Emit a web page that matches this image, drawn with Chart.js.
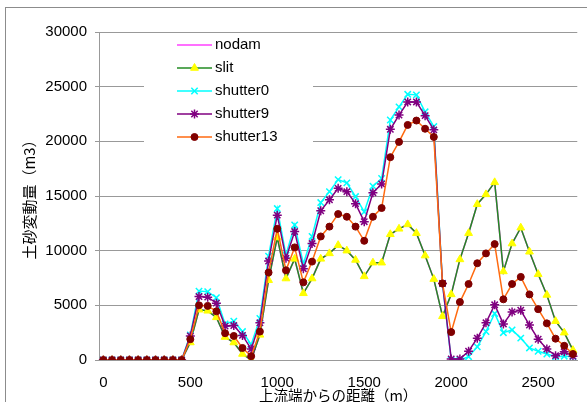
<!DOCTYPE html>
<html>
<head>
<meta charset="utf-8">
<script src="https://cdn.jsdelivr.net/npm/chart.js@4/dist/chart.umd.min.js"></script>
<style>
  body { margin: 0; background: #fff; }
  canvas { display: block; }
</style>
</head>
<body>
<canvas id="sedimentChart" width="587" height="402"></canvas>
<script>
// 距離 (m)
const distances = [];
for (let d = 0; d <= 2700; d += 50) distances.push(d);
const xTickLabels = [0, 500, 1000, 1500, 2000, 2500];

// 土砂変動量 (m3)
const slit = [0, 0, 0, 0, 0, 0, 0, 0, 0, 0,
  1600, 4600, 4500, 3900, 2100, 1600, 550, 0, 2300, 7300,
  11200, 7450, 9250, 6100, 7450, 9250, 9750, 10500, 10000, 9150,
  7650, 8900, 8900, 11500, 12000, 12400, 11600, 9550, 7400, 4000,
  6000, 9200, 11600, 14250, 15150, 16250, 8100, 10650, 12100, 9900,
  7850, 5950, 3550, 2500, 900];
const nodam = slit.slice();
const shutter0 = [0, 0, 0, 0, 0, 0, 0, 0, 0, 0,
  2300, 6300, 6250, 5700, 3300, 3550, 2600, 1400, 3800, 9500,
  13850, 9600, 12350, 8800, 11300, 14400, 15400, 16500, 16200, 14950,
  13550, 15900, 16600, 21950, 23150, 24300, 24250, 22700, 21350, 7000,
  0, 0, 300, 1200, 2600, 4250, 2500, 2750, 2000, 1100,
  800, 550, 300, 350, 300];
const shutter9 = [0, 0, 0, 0, 0, 0, 0, 0, 0, 0,
  2200, 5800, 5750, 5200, 3100, 3150, 2250, 1000, 3400, 9050,
  13250, 9300, 11750, 8350, 10650, 13650, 14650, 15700, 15400, 14300,
  12650, 15300, 16100, 21100, 22400, 23600, 23600, 22350, 21050, 7000,
  100, 100, 800, 2000, 3400, 5050, 3300, 4400, 4550, 3200,
  1900, 1000, 400, 750, 350];
const shutter13 = [0, 0, 0, 0, 0, 0, 0, 0, 0, 0,
  1900, 5000, 4950, 4450, 2450, 2200, 1100, 350, 2600, 8000,
  12000, 8200, 10300, 7100, 9000, 11300, 12200, 13350, 13100, 12200,
  10900, 13100, 13900, 18550, 19950, 21500, 21900, 21150, 20400, 7000,
  2550, 5300, 6950, 8850, 9750, 10600, 5550, 6950, 7600, 6000,
  4650, 3350, 1950, 1300, 550];

const labelFont = { family: "'Liberation Sans', Arial, sans-serif", size: 15 };
const jpFont = "'Noto Sans CJK JP', 'Liberation Sans', sans-serif";

// 外枠
const framePlugin = {
  id: 'frame',
  beforeDraw(chart) {
    const c = chart.ctx;
    c.save();
    c.fillStyle = '#fff';
    c.fillRect(0, 0, chart.width, chart.height);
    c.strokeStyle = '#8c8c8c';
    c.lineWidth = 1;
    c.strokeRect(5.5, 7.5, chart.width + 20, chart.height + 20);
    c.restore();
  }
};

// 凡例 (グラフ内に配置)
const legendPlugin = {
  id: 'insideLegend',
  afterDraw(chart) {
    const c = chart.ctx;
    c.save();
    c.fillStyle = '#fff';
    c.fillRect(144, 34, 169, 116);
    chart.data.datasets.forEach((ds, i) => {
      const y = 45 + 23 * i;
      c.strokeStyle = ds.borderColor;
      c.lineWidth = 1.5;
      c.beginPath();
      c.moveTo(177, y);
      c.lineTo(212, y);
      c.stroke();
      if (ds.pointRadius > 0) {
        c.fillStyle = ds.pointBackgroundColor;
        c.strokeStyle = ds.pointBorderColor;
        c.lineWidth = ds.pointBorderWidth || 1;
        Chart.helpers.drawPoint(c, {
          pointStyle: ds.pointStyle,
          radius: ds.pointRadius,
          rotation: 0,
          borderWidth: ds.pointBorderWidth || 1
        }, 194.5, y);
      }
      c.fillStyle = '#000';
      c.font = '15px ' + labelFont.family;
      c.textBaseline = 'middle';
      c.textAlign = 'left';
      c.fillText(ds.label, 215, y);
    });
    c.restore();
  }
};

const ctx = document.getElementById('sedimentChart').getContext('2d');
const chart = new Chart(ctx, {
  type: 'line',
  data: {
    labels: distances,
    datasets: [
      {
        label: 'nodam', data: nodam, order: 4,
        borderColor: '#ff40ff', borderWidth: 1.5,
        pointRadius: 0
      },
      {
        label: 'slit', data: slit, order: 3,
        borderColor: '#228b22', borderWidth: 1.5,
        pointStyle: 'triangle', pointRadius: 4.5,
        pointBackgroundColor: '#ffff00', pointBorderColor: '#ffff00', pointBorderWidth: 1
      },
      {
        label: 'shutter0', data: shutter0, order: 2,
        borderColor: '#00ffff', borderWidth: 1.5,
        pointStyle: 'crossRot', pointRadius: 4.5,
        pointBackgroundColor: '#00ffff', pointBorderColor: '#00ffff', pointBorderWidth: 1.5
      },
      {
        label: 'shutter9', data: shutter9, order: 1,
        borderColor: '#800080', borderWidth: 1.5,
        pointStyle: 'star', pointRadius: 4.5,
        pointBackgroundColor: '#800080', pointBorderColor: '#800080', pointBorderWidth: 1.5
      },
      {
        label: 'shutter13', data: shutter13, order: 0,
        borderColor: '#ff6a10', borderWidth: 1.5,
        pointStyle: 'circle', pointRadius: 3.5,
        pointBackgroundColor: '#800000', pointBorderColor: '#800000', pointBorderWidth: 1
      }
    ]
  },
  options: {
    responsive: false,
    animation: false,
    devicePixelRatio: 1,
    layout: { padding: { left: 0, top: 32, right: 3, bottom: 0 } },
    plugins: {
      legend: { display: false },
      tooltip: { enabled: false }
    },
    elements: { line: { tension: 0 } },
    scales: {
      x: {
        type: 'category',
        offset: true,
        grid: { display: false, drawTicks: false },
        border: { display: true, color: '#999' },
        ticks: {
          autoSkip: false,
          maxRotation: 0,
          padding: 14,
          color: '#000',
          font: labelFont,
          callback: function (value) {
            const d = Number(this.getLabelForValue(value));
            return xTickLabels.includes(d) ? String(d) : '';
          }
        },
        title: {
          display: true,
          text: '上流端からの距離（m）',
          color: '#000',
          font: { family: jpFont, size: 14.5 },
          padding: { top: 0, bottom: -2 }
        },
        afterFit(scale) { scale.height = 42; }
      },
      y: {
        min: 0,
        max: 30000,
        ticks: {
          stepSize: 5000, padding: 8, color: '#000', font: labelFont,
          callback: (v) => String(v)
        },
        grid: { color: '#999', tickLength: 4, lineWidth: 1 },
        border: { display: true, color: '#999' },
        title: {
          display: true,
          text: '土砂変動量（m3）',
          color: '#000',
          font: { family: jpFont, size: 15 },
          padding: { top: 20, bottom: 0 }
        },
        afterFit(scale) { scale.width = 99; }
      }
    }
  },
  plugins: [framePlugin, legendPlugin]
});
</script>
</body>
</html>
